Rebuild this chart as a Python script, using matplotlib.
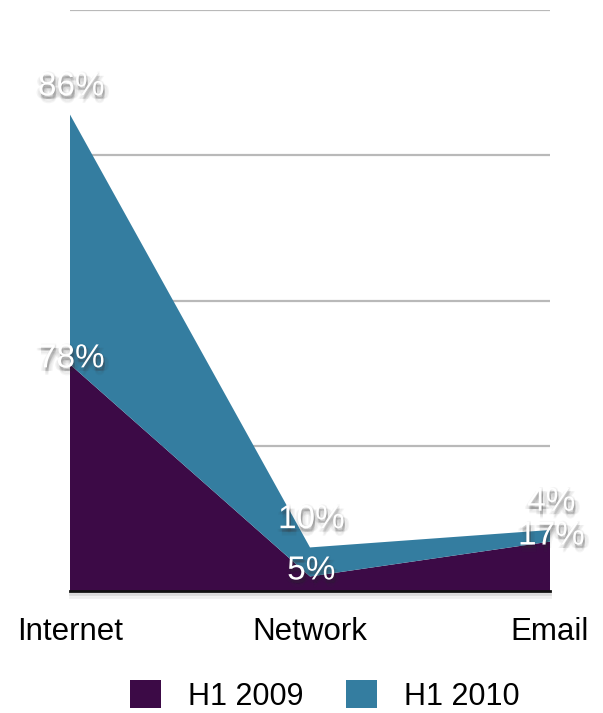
import numpy as np
import matplotlib
matplotlib.use('Agg')
import matplotlib.pyplot as plt
import matplotlib.patheffects as pe
from matplotlib.patches import Patch

plt.rcParams['font.family'] = ['Liberation Sans', 'DejaVu Sans']

categories = ['Internet', 'Network', 'Email']
h1_2009 = [78, 5, 17]
h1_2010 = [86, 10, 4]
series_names = ['H1 2009', 'H1 2010']
colors = ['#3c0a46', '#347da0']


def soft_shadow(dx=1.0, dy=-2.5, n=4, alpha=0.05):
    # a few offset copies to fake a blurred drop shadow
    effects = []
    for k in range(n):
        r = k * 1.0
        for ox, oy in [(dx + r, dy), (dx - r, dy), (dx, dy + r), (dx, dy - r)]:
            effects.append(pe.SimplePatchShadow(offset=(ox, oy), shadow_rgbFace='#333333', alpha=alpha))
    return effects


fig = plt.figure(figsize=(6.03, 7.13), dpi=100)
ax = fig.add_axes([70 / 603, 1 - 591 / 713, 480 / 603, 581 / 713])

x = np.arange(len(categories))
polys = ax.stackplot(x, h1_2009, h1_2010, colors=colors, zorder=3)
for p in polys:
    p.set_linewidth(0)

ax.set_xlim(0, 2)
ax.set_ylim(0, 200)
ax.set_yticks([50, 100, 150, 200])
ax.set_yticklabels([])
ax.grid(axis='y', color='#b9b9b9', linewidth=1.6, zorder=1)
ax.set_axisbelow(True)
for s in ax.spines.values():
    s.set_visible(False)
ax.tick_params(length=0)
ax.set_xticks(x)
ax.set_xticklabels(categories, fontsize=22.5)
ax.tick_params(axis='x', pad=19)

ax.axhline(0, color='#111111', linewidth=2, zorder=4, clip_on=False,
           path_effects=[pe.SimpleLineShadow(offset=(0, -2), shadow_color='k', alpha=0.15),
                         pe.SimpleLineShadow(offset=(0, -4), shadow_color='k', alpha=0.06),
                         pe.Normal()])

# value labels
tops_2009 = np.array(h1_2009)
tops_2010 = tops_2009 + np.array(h1_2010)
for i in range(len(categories)):
    for val, top, dy in [(h1_2009[i], tops_2009[i], 4), (h1_2010[i], tops_2010[i], 20)]:
        ax.annotate(f'{val}%', (x[i], top), xytext=(1, dy), textcoords='offset points',
                    ha='center', va='center', fontsize=24, color='white', zorder=6,
                    annotation_clip=False,
                    path_effects=soft_shadow() + [pe.Normal()])

handles = [Patch(facecolor=c, edgecolor='none') for c in colors]
fig.legend(handles, series_names, loc='lower left', bbox_to_anchor=(130 / 603, 0.002),
           ncol=2, frameon=False, fontsize=22, handlelength=1.0, handleheight=1.0,
           handletextpad=0.9, columnspacing=1.4, borderaxespad=0, borderpad=0)

fig.savefig('out.png', dpi=100)
